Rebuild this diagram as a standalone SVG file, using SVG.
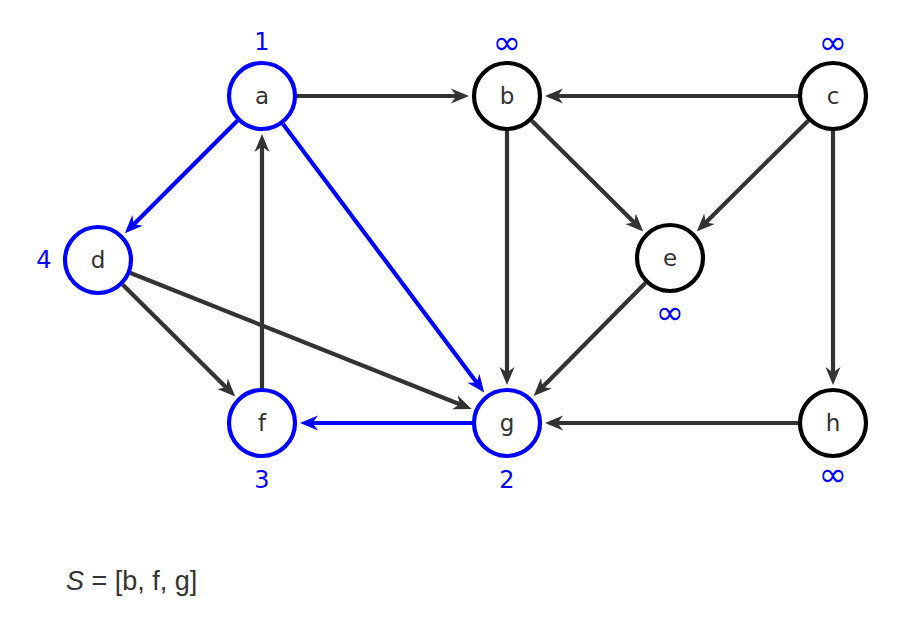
<svg xmlns="http://www.w3.org/2000/svg" width="916" height="619" viewBox="0 0 916 619">
<defs>
<style>
.n circle{fill:#fff;stroke-width:4.2}
.blk circle{stroke:#000}
.blu circle{stroke:#0000ff}
.n text{font-family:"DejaVu Sans","Liberation Sans",sans-serif;font-size:23px;fill:#333;text-anchor:middle;dominant-baseline:central}
.lbl{font-family:"DejaVu Sans","Liberation Sans",sans-serif;font-size:24px;fill:#0000ff;text-anchor:middle;dominant-baseline:central}
.inf{font-size:34px}
.e{stroke:#333;stroke-width:4.2;fill:none;marker-end:url(#ag)}
.eb{stroke:#0000ff;stroke-width:4.2;fill:none;marker-end:url(#ab)}
</style>
<marker id="ag" markerUnits="userSpaceOnUse" markerWidth="20" markerHeight="18" refX="12" refY="9" orient="auto"><path d="M0,1.5 L18,9 L0,16.5 L5.5,9 z" fill="#333"/></marker>
<marker id="ab" markerUnits="userSpaceOnUse" markerWidth="20" markerHeight="18" refX="12" refY="9" orient="auto"><path d="M0,1.5 L18,9 L0,16.5 L5.5,9 z" fill="#0000ff"/></marker>
</defs>
<rect width="916" height="619" fill="#fff"/>
<g id="edges">
<line class="e" x1="297" y1="96" x2="463" y2="96"/>
<line class="e" x1="798" y1="96" x2="551" y2="96"/>
<line class="e" x1="531.8" y1="120.7" x2="639" y2="227.2"/>
<line class="e" x1="808.2" y1="120.7" x2="701" y2="227.2"/>
<line class="e" x1="833" y1="131" x2="833" y2="379"/>
<line class="e" x1="507" y1="131" x2="507" y2="379"/>
<line class="e" x1="645.4" y1="282.9" x2="537.9" y2="391.7"/>
<line class="e" x1="798" y1="423" x2="551" y2="423"/>
<line class="e" x1="130.5" y1="273" x2="466" y2="406.7"/>
<line class="e" x1="122.8" y1="284.7" x2="231" y2="392.2"/>
<line class="e" x1="262" y1="388" x2="262" y2="140"/>
<line class="eb" x1="237.3" y1="120.7" x2="129.1" y2="228.9"/>
<line class="eb" x1="283" y1="124" x2="480.6" y2="387.8"/>
<line class="eb" x1="472" y1="423" x2="306" y2="423"/>
</g>
<g id="a" class="n blu"><circle cx="262" cy="96" r="33"/><text x="262" y="96">a</text></g>
<g id="b" class="n blk"><circle cx="507" cy="96" r="33"/><text x="507" y="96">b</text></g>
<g id="c" class="n blk"><circle cx="833" cy="96" r="33"/><text x="833" y="96">c</text></g>
<g id="d" class="n blu"><circle cx="98" cy="260" r="33"/><text x="98" y="260">d</text></g>
<g id="e" class="n blk"><circle cx="670" cy="258" r="33"/><text x="670" y="258">e</text></g>
<g id="f" class="n blu"><circle cx="262" cy="423" r="33"/><text x="262" y="423">f</text></g>
<g id="g" class="n blu"><circle cx="507" cy="423" r="33"/><text x="507" y="423">g</text></g>
<g id="h" class="n blk"><circle cx="833" cy="423" r="33"/><text x="833" y="423">h</text></g>
<g id="labels">
<text class="lbl" x="262" y="42">1</text>
<text class="lbl inf" x="507" y="42">∞</text>
<text class="lbl inf" x="833" y="42">∞</text>
<text class="lbl" x="44" y="260">4</text>
<text class="lbl inf" x="670" y="312">∞</text>
<text class="lbl" x="262" y="480">3</text>
<text class="lbl" x="507" y="480">2</text>
<text class="lbl inf" x="833" y="474">∞</text>
</g>
<text x="66" y="590" font-family="Liberation Sans, DejaVu Sans, sans-serif" font-size="27" fill="#333"><tspan font-style="italic">S</tspan> = [b, f, g]</text>
</svg>
